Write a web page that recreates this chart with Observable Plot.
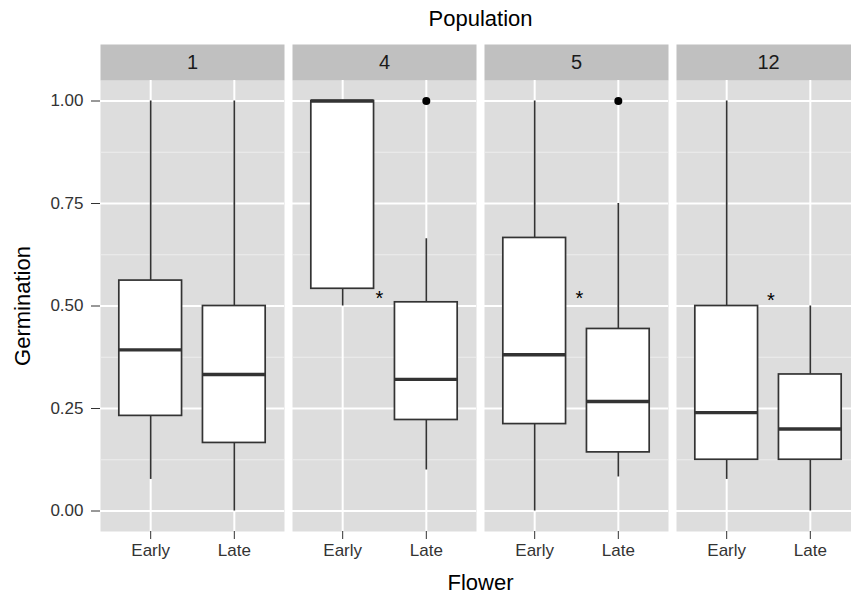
<!DOCTYPE html>
<html><head><meta charset="utf-8">
<script src="https://cdn.jsdelivr.net/npm/d3@7"></script>
<script src="https://cdn.jsdelivr.net/npm/@observablehq/plot@0.6"></script>
<style>
body{margin:0;overflow:hidden;background:#fff;}
g[aria-label="y-axis label"] text, g[aria-label="fx-axis label"] text {font-size:22px; fill:#000;}
</style></head><body><div id="chart"></div>
<script>
const populations = ["1","4","5","12"];
const flowers = ["Early","Late"];
// rows: population; columns: [Early, Late]
const whiskerLow  = [[0.077,0.000],[0.500,0.100],[0.000,0.083],[0.077,0.000]];
const q1          = [[0.232,0.166],[0.542,0.222],[0.212,0.143],[0.125,0.125]];
const median      = [[0.393,0.333],[1.000,0.321],[0.381,0.267],[0.240,0.200]];
const q3          = [[0.562,0.500],[1.000,0.509],[0.666,0.444],[0.500,0.333]];
const whiskerHigh = [[1.000,1.000],[1.000,0.664],[1.000,0.750],[1.000,0.500]];
const outlierPopulation = ["4","5"];
const outlierFlower = ["Late","Late"];
const outlierValue = [1.0, 1.0];
const starPopulation = ["4","5","12"];
const starX = [1.44, 1.535, 1.53];
const starY = [0.525, 0.525, 0.521];
const yTicks = [0, 0.25, 0.5, 0.75, 1];
const yMinor = [0.125, 0.375, 0.625, 0.875];

const halfBox = 0.375;
const boxes = [];
populations.forEach((p, i) => flowers.forEach((f, j) => boxes.push({
  population: p, flower: f, x: j + 1,
  lo: whiskerLow[i][j], q1: q1[i][j], med: median[i][j], q3: q3[i][j], hi: whiskerHigh[i][j]
})));
const outliers = outlierPopulation.map((p, k) => ({population: p, x: flowers.indexOf(outlierFlower[k]) + 1, y: outlierValue[k]}));
const stars = starPopulation.map((p, k) => ({population: p, x: starX[k], y: starY[k]}));

const ink = "#333333";
const plot = Plot.plot({
  width: 860, height: 597,
  marginLeft: 100, marginRight: 0, marginTop: 80, marginBottom: 66,
  style: "max-width:none; font-family:'Liberation Sans', Arial, sans-serif; overflow:visible;",
  fx: {domain: populations, paddingInner: 8/192, paddingOuter: 0},
  x: {domain: [0.4, 2.6]},
  y: {domain: [-0.05, 1.05]},
  marks: [
    Plot.frame({fill: "#DDDDDD", stroke: null}),
    Plot.frame({fill: "#C0C0C0", stroke: null, insetTop: -36, insetBottom: 451}),
    Plot.gridY(yMinor, {stroke: "#EDEDED", strokeOpacity: 1, strokeWidth: 1}),
    Plot.gridY(yTicks, {stroke: "#FFFFFF", strokeOpacity: 1, strokeWidth: 2}),
    Plot.gridX([1, 2], {stroke: "#FFFFFF", strokeOpacity: 1, strokeWidth: 2}),
    Plot.axisY(yTicks, {tickFormat: d3.format(".2f"), tickSize: 9, tickPadding: 8, fontSize: 17, color: ink,
      label: "Germination", labelAnchor: "center", labelArrow: "none", labelOffset: 86}),
    Plot.axisX([1, 2], {tickFormat: d => flowers[d - 1], tickSize: 8, tickPadding: 4, fontSize: 17, color: ink, label: null}),
    Plot.axisFx({anchor: "top", tickSize: 0, tickPadding: 12, fontSize: 20, color: "#1a1a1a",
      label: "Population", labelAnchor: "center", labelArrow: "none", labelOffset: 70}),
    Plot.axisFx({anchor: "bottom", tickSize: 0, tickFormat: () => "", label: "Flower", labelAnchor: "center", labelArrow: "none", labelOffset: 58}),
    Plot.ruleX(boxes, {fx: "population", x: "x", y1: "lo", y2: "q1", stroke: ink, strokeWidth: 1.7}),
    Plot.ruleX(boxes, {fx: "population", x: "x", y1: "q3", y2: "hi", stroke: ink, strokeWidth: 1.7}),
    Plot.rect(boxes, {fx: "population", x1: d => d.x - halfBox, x2: d => d.x + halfBox, y1: "q1", y2: "q3", fill: "#FFFFFF", stroke: ink, strokeWidth: 1.7}),
    Plot.ruleY(boxes, {fx: "population", y: "med", x1: d => d.x - halfBox, x2: d => d.x + halfBox, stroke: ink, strokeWidth: 3.4}),
    Plot.dot(outliers, {fx: "population", x: "x", y: "y", r: 4, fill: "#000", stroke: null}),
    Plot.text(stars, {fx: "population", x: "x", y: "y", text: () => "*", fontSize: 20, dy: 3, fill: "#000"})
  ]
});
document.getElementById("chart").appendChild(plot);
</script></body></html>
